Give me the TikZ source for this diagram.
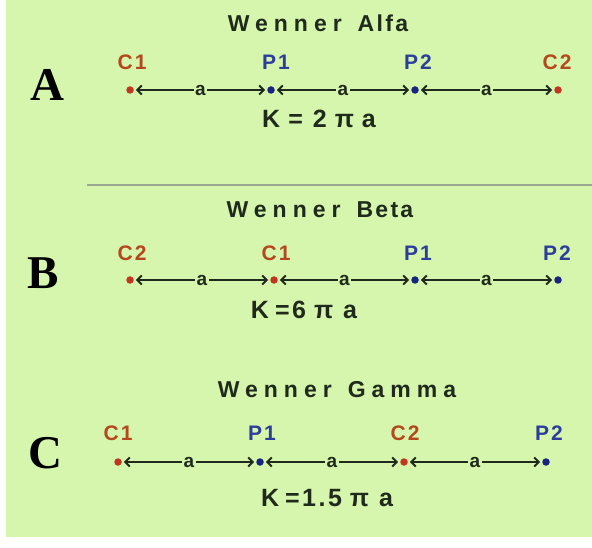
\documentclass[tikz,border=0pt]{standalone}
\usepackage{fontspec}
\setmainfont{Liberation Serif}
\newfontfamily\lblfont[LetterSpace=10]{Liberation Sans}
\newfontfamily\ttlfont[LetterSpace=26]{Liberation Sans}
\usetikzlibrary{arrows.meta}
\definecolor{bg}{HTML}{D5F6AC}
\definecolor{cc}{HTML}{B5461E}
\definecolor{pc}{HTML}{2E3D9C}
\definecolor{cdot}{HTML}{C0361E}
\definecolor{pdot}{HTML}{1A2480}
\definecolor{ln}{HTML}{1F2A1C}
\definecolor{sepc}{HTML}{98A890}
\tikzset{
  dotc/.style={circle,fill=cdot,minimum size=7.5pt,inner sep=0pt},
  dotp/.style={circle,fill=pdot,minimum size=7.5pt,inner sep=0pt},
  conn/.style={draw=ln,line width=1.9pt,
    {Straight Barb[length=4.5pt,width=9pt]}-{Straight Barb[length=4.5pt,width=9pt]},
    shorten <=2pt,shorten >=2pt},
  alab/.style={fill=bg,inner sep=1.5pt,text=ln,font=\lblfont\bfseries\fontsize{19}{19}\selectfont},
  clab/.style={text=cc,font=\lblfont\bfseries\fontsize{21}{21}\selectfont},
  plab/.style={text=pc,font=\lblfont\bfseries\fontsize{21}{21}\selectfont},
  big/.style={text=black,font=\bfseries\fontsize{47}{47}\selectfont},
  ttl/.style={text=ln,font=\bfseries\fontsize{23}{23}\selectfont},
  kf/.style={text=ln,font=\lblfont\bfseries\fontsize{25}{25}\selectfont},
}
\begin{document}
\begin{tikzpicture}[x=1pt,y=1pt]
\useasboundingbox (0,0) rectangle (592,547);
\fill[white] (0,0) rectangle (592,547);
\fill[bg] (6,10) rectangle (592,547);

% ---------- A: Wenner Alfa ----------
\node[ttl] (ta) at (318,524) {{\ttlfont Wenner}\hspace{16pt}{\lblfont Alfa}};
\node[big] (la) at (47,462) {A};
\node[dotc] (a1) at (130,457) {};
\node[dotp] (a2) at (271,457) {};
\node[dotp] (a3) at (415,457) {};
\node[dotc] (a4) at (558,457) {};
\node[clab] (a1l) at (132,485) {C1};
\node[plab] (a2l) at (276,485) {P1};
\node[plab] (a3l) at (418,485) {P2};
\node[clab] (a4l) at (557,485) {C2};
\draw[conn] (a1) -- node[alab] {a} (a2);
\draw[conn] (a2) -- node[alab] {a} (a3);
\draw[conn] (a3) -- node[alab] {a} (a4);
\node[kf] (ka) at (319,428) {K\hspace{8pt}=\hspace{10pt}2\hspace{8pt}π\hspace{8pt}a};

% separator
\coordinate (s1) at (87,362);
\coordinate (s2) at (592,362);
\draw[sepc,line width=1.8pt] (s1) -- (s2);

% ---------- B: Wenner Beta ----------
\node[ttl] (tb) at (320,337) {{\ttlfont Wenner}\hspace{16pt}{\lblfont Beta}};
\node[big] (lb) at (43,274) {B};
\node[dotc] (b1) at (130,267) {};
\node[dotc] (b2) at (274,267) {};
\node[dotp] (b3) at (415,267) {};
\node[dotp] (b4) at (558,267) {};
\node[clab] (b1l) at (132,294) {C2};
\node[clab] (b2l) at (276,294) {C1};
\node[plab] (b3l) at (418,294) {P1};
\node[plab] (b4l) at (557,294) {P2};
\draw[conn] (b1) -- node[alab] {a} (b2);
\draw[conn] (b2) -- node[alab] {a} (b3);
\draw[conn] (b3) -- node[alab] {a} (b4);
\node[kf] (kb) at (304,237) {K\hspace{6pt}=6\hspace{8pt}π\hspace{10pt}a};

% ---------- C: Wenner Gamma ----------
\node[ttl] (tc) at (337,157) {{\ttlfont Wenner}\hspace{16pt}{\ttlfont Gamma}};
\node[big] (lc) at (45,94) {C};
\node[dotc] (c1) at (118,85) {};
\node[dotp] (c2) at (260,85) {};
\node[dotc] (c3) at (404,85) {};
\node[dotp] (c4) at (546,85) {};
\node[clab] (c1l) at (118,114) {C1};
\node[plab] (c2l) at (262,114) {P1};
\node[clab] (c3l) at (405,114) {C2};
\node[plab] (c4l) at (549,114) {P2};
\draw[conn] (c1) -- node[alab] {a} (c2);
\draw[conn] (c2) -- node[alab] {a} (c3);
\draw[conn] (c3) -- node[alab] {a} (c4);
\node[kf] (kc) at (327,49) {K\hspace{6pt}=1.5\hspace{8pt}π\hspace{10pt}a};
\end{tikzpicture}
\end{document}
